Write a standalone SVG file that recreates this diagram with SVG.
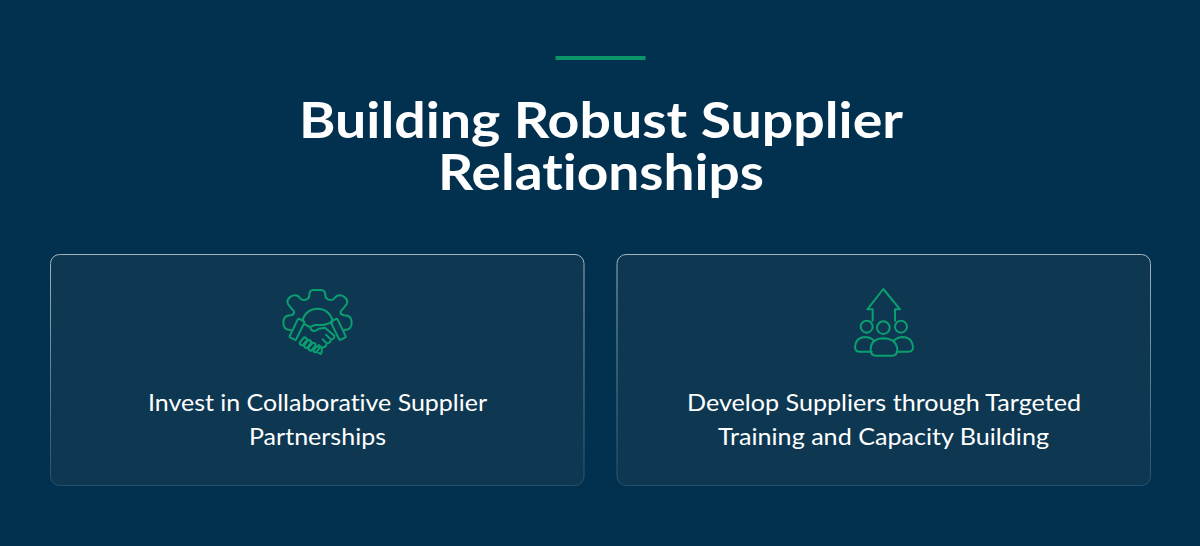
<svg xmlns="http://www.w3.org/2000/svg" width="1200" height="546" viewBox="0 0 1200 546">
<style>
.t{font-family:"Lato","Noto Sans","Liberation Sans",sans-serif;fill:#fff;text-anchor:middle;font-variant-ligatures:none}
.h{font-size:50px;font-weight:700}
.b{font-size:23px;font-weight:400}
.card{fill:#0e3852;stroke:url(#edge);stroke-width:1}
.ic{fill:none;stroke:#0b9f70;stroke-width:6;stroke-linejoin:round;stroke-linecap:round}
</style>
<defs>
<linearGradient id="edge" x1="0" y1="0" x2="0" y2="1">
<stop offset="0" stop-color="#a3b4c0"/>
<stop offset="1" stop-color="#25506a"/>
</linearGradient>
</defs>
<rect width="1200" height="546" fill="#02304f"/>
<rect id="accent" x="555.5" y="56" width="90" height="4" fill="#0a9468"/>
<g id="title">
<text class="t h" x="601" y="138" textLength="604" lengthAdjust="spacingAndGlyphs">Building Robust Supplier</text>
<text class="t h" x="601" y="190" textLength="326" lengthAdjust="spacingAndGlyphs">Relationships</text>
</g>
<g id="card-1">
<rect class="card" x="50.5" y="254.5" width="533.5" height="231" rx="9"/>
<g transform="translate(270 280) scale(.33333)">
<path class="ic" d="M62 150Q40 150 40 128Q40 106 62 106Q74 104 72 94Q62 84 54 72Q48 60 62 50Q72 42 84 48L94 58Q102 62 110 58Q118 55 118 45Q118 30 130 30L152 30Q166 30 166 45Q166 55 174 58Q182 62 190 58L200 48Q212 42 222 50Q236 60 230 72Q222 84 212 94Q210 104 222 106Q245 106 245 128Q245 150 222 150"/>
<path class="ic" d="M98 122A45 42 0 0 1 187 122"/>
<rect class="ic" x="-11" y="-31" width="22" height="62" rx="4" transform="translate(81 148) rotate(26)"/>
<rect class="ic" x="-11" y="-31" width="22" height="62" rx="4" transform="translate(205 148) rotate(-26)"/>
<path class="ic" d="M102 132L122 142M123 140L135 135L160 135L187 127M123 140Q118 148 130 153Q140 154 146 146L165 143L193 167Q194 178 182 178L168 164M182 178Q184 188 170 190L158 178M170 190Q168 204 154 202L147 195M154 202Q158 216 152 222L142 216"/>
<rect class="ic" x="-6" y="-13" width="12" height="26" rx="6" transform="translate(100 184) rotate(40)"/>
<rect class="ic" x="-6" y="-13" width="12" height="26" rx="6" transform="translate(113 192) rotate(40)"/>
<rect class="ic" x="-6" y="-13" width="12" height="26" rx="6" transform="translate(126 200) rotate(40)"/>
<rect class="ic" x="-5" y="-10" width="10" height="20" rx="5" transform="translate(139 208) rotate(40)"/>
</g>
<text class="t b" x="317.5" y="411" textLength="339" lengthAdjust="spacingAndGlyphs">Invest in Collaborative Supplier</text>
<text class="t b" x="317.5" y="445" textLength="137" lengthAdjust="spacingAndGlyphs">Partnerships</text>
</g>
<g id="card-2">
<rect class="card" x="617" y="254.5" width="533.5" height="231" rx="9"/>
<g transform="translate(840 280) scale(.33333)">
<path class="ic" d="M98 122L98 88L82 88L130 27L180 88L165 88L165 122"/>
<circle class="ic" cx="80" cy="140" r="18"/>
<circle class="ic" cx="130" cy="143" r="19"/>
<circle class="ic" cx="183" cy="140" r="18"/>
<path class="ic" d="M95 215L60 215Q45 215 45 200Q48 172 75 171Q92 171 103 183"/>
<path class="ic" d="M170 215L205 215Q220 215 219 200Q215 172 190 171Q172 171 160 183"/>
<path class="ic" d="M92 210Q92 176 130 175Q170 176 172 210Q172 227 155 227L108 227Q92 227 92 210Z"/>
</g>
<text class="t b" x="884" y="411" textLength="394" lengthAdjust="spacingAndGlyphs">Develop Suppliers through Targeted</text>
<text class="t b" x="883.5" y="445" textLength="331" lengthAdjust="spacingAndGlyphs">Training and Capacity Building</text>
</g>
</svg>
